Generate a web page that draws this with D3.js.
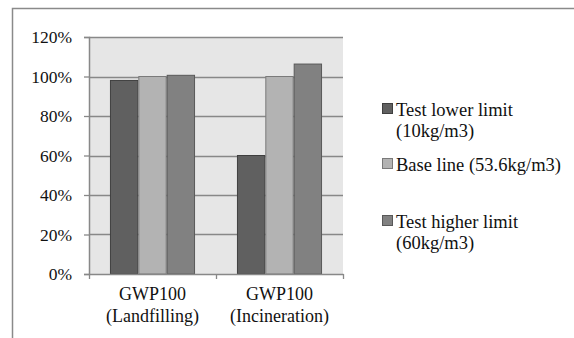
<!DOCTYPE html>
<html>
<head>
<meta charset="utf-8">
<script src="https://cdn.jsdelivr.net/npm/d3@7.9.0/dist/d3.min.js"></script>
<style>
  body { margin: 0; background: #fff; }
  svg, svg text { display: block; font-family: "Liberation Serif", "Times New Roman", Times, "DejaVu Serif", serif; }
</style>
</head>
<body>
<svg id="chart" width="574" height="338"></svg>
<script>
// categories (two text lines each)
const categories = [
  ['GWP100', '(Landfilling)'],
  ['GWP100', '(Incineration)']
];
const seriesNames = [
  ['Test lower limit', '(10kg/m3)'],
  ['Base line (53.6kg/m3)'],
  ['Test higher limit', '(60kg/m3)']
];
const lowerLimit = [0.98, 0.60];
const baseLine = [1.00, 1.00];
const higherLimit = [1.006, 1.063];
const yTicks = [0, 0.2, 0.4, 0.6, 0.8, 1.0, 1.2];

const seriesValues = [lowerLimit, baseLine, higherLimit];
const fills = ['#606060', '#b3b3b3', '#818181'];
const strokes = ['#3f3f3f', '#7a7a7a', '#585858'];

const svg = d3.select('#chart');

// outer chart border (only top and left visible in frame)
svg.append('rect')
  .attr('x', 12.5).attr('y', 8.5)
  .attr('width', 600).attr('height', 400)
  .attr('fill', 'none')
  .attr('stroke', '#8a8a8a')
  .attr('stroke-width', 1.5);

const plot = { left: 89, right: 343, top: 37, bottom: 274 };

const y = d3.scaleLinear().domain([0, 1.2]).range([plot.bottom, plot.top]);
const x0 = d3.scaleBand()
  .domain(d3.range(categories.length))
  .range([plot.left, plot.right])
  .paddingInner(0.33)
  .paddingOuter(0.165);
const x1 = d3.scaleBand()
  .domain(d3.range(seriesValues.length))
  .range([0, x0.bandwidth()]);

// plot background
svg.append('rect')
  .attr('x', plot.left).attr('y', plot.top)
  .attr('width', plot.right - plot.left)
  .attr('height', plot.bottom - plot.top)
  .attr('fill', '#e6e6e6');

// gridlines
svg.append('g')
  .selectAll('line')
  .data(yTicks.filter(d => d > 0))
  .join('line')
  .attr('x1', plot.left).attr('x2', plot.right)
  .attr('y1', d => Math.round(y(d)) + 0.5)
  .attr('y2', d => Math.round(y(d)) + 0.5)
  .attr('stroke', '#888')
  .attr('stroke-width', 1.3);

// bars
const groups = svg.append('g')
  .selectAll('g')
  .data(categories.map((c, i) => i))
  .join('g')
  .attr('transform', i => `translate(${x0(i)},0)`);

groups.selectAll('rect')
  .data(i => seriesValues.map((vals, s) => ({ s, v: vals[i] })))
  .join('rect')
  .attr('x', d => x1(d.s) + 0.5)
  .attr('y', d => y(d.v))
  .attr('width', x1.bandwidth() - 1)
  .attr('height', d => plot.bottom - y(d.v))
  .attr('fill', d => fills[d.s])
  .attr('stroke', d => strokes[d.s])
  .attr('stroke-width', 1);

// y axis
const yAxis = svg.append('g')
  .attr('transform', `translate(${plot.left},0)`)
  .call(d3.axisLeft(y).tickValues(yTicks).tickFormat(d3.format('.0%')).tickSize(5).tickPadding(12));
yAxis.attr('font-family', null);
yAxis.select('.domain').attr('stroke', '#888').attr('stroke-width', 1.5);
yAxis.selectAll('.tick line').attr('stroke', '#888').attr('stroke-width', 1.3);
yAxis.selectAll('text').attr('font-size', 17.5).attr('fill', '#111');

// x axis
const xAxis = svg.append('g')
  .attr('transform', `translate(0,${plot.bottom})`)
  .call(d3.axisBottom(d3.scaleLinear().domain([0, 2]).range([plot.left, plot.right]))
    .tickValues([0, 1, 2]).tickFormat('').tickSize(5).tickSizeOuter(0));
xAxis.select('.domain').attr('stroke', '#888').attr('stroke-width', 1.5);
xAxis.selectAll('.tick line').attr('stroke', '#888').attr('stroke-width', 1.3);

// category labels
svg.append('g')
  .selectAll('text')
  .data(categories)
  .join('text')
  .attr('x', (d, i) => x0(i) + x0.bandwidth() / 2)
  .attr('y', 300)
  .attr('text-anchor', 'middle')
  .attr('font-size', 18)
  .attr('fill', '#111')
  .selectAll('tspan')
  .data(d => d)
  .join('tspan')
  .attr('x', function () { return this.parentNode.getAttribute('x'); })
  .attr('dy', (d, i) => i === 0 ? 0 : 22)
  .text(d => d);

// legend
const legendTop = [116, 171, 228];
const legend = svg.append('g')
  .selectAll('g')
  .data(seriesNames)
  .join('g')
  .attr('transform', (d, i) => `translate(382,${legendTop[i]})`);

legend.append('rect')
  .attr('x', 0.5).attr('y', -12.5)
  .attr('width', 10).attr('height', 10)
  .attr('fill', (d, i) => fills[i])
  .attr('stroke', (d, i) => strokes[i]);

legend.append('text')
  .attr('x', 14)
  .attr('font-size', 18.5)
  .attr('fill', '#111')
  .selectAll('tspan')
  .data(d => d)
  .join('tspan')
  .attr('x', 14)
  .attr('dy', (d, i) => i === 0 ? 0 : 21)
  .text(d => d);
</script>
</body>
</html>
